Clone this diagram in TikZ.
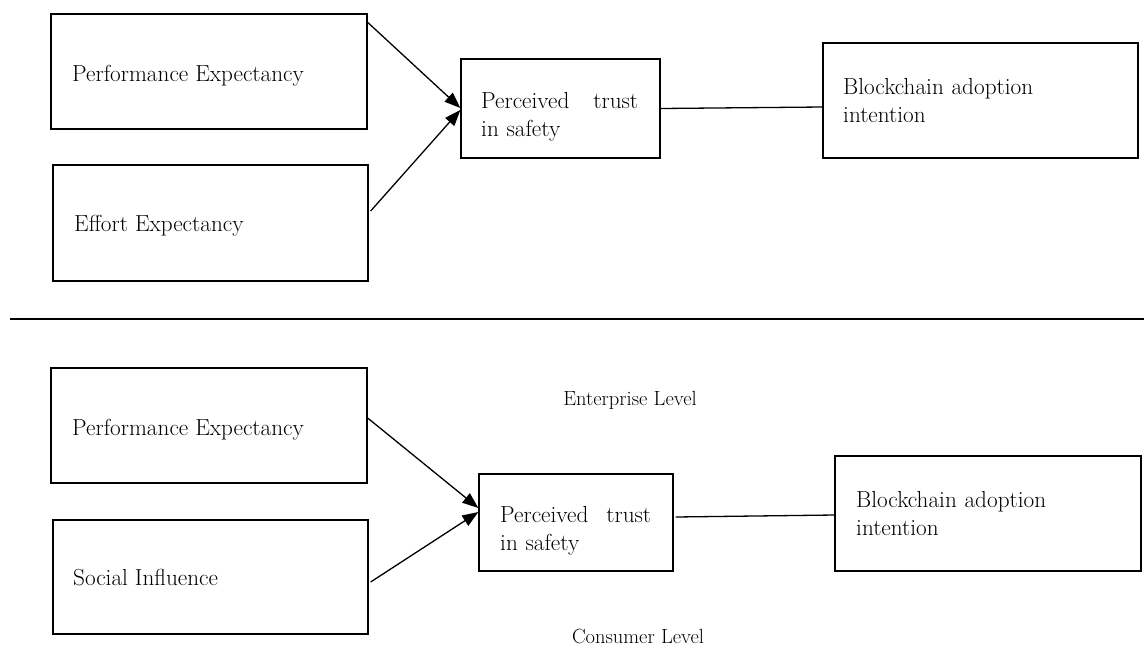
\documentclass[tikz,border=0pt]{standalone}
\usetikzlibrary{arrows.meta}
\begin{document}
\begin{tikzpicture}[x=1pt,y=-1pt,
  box/.style={draw=black,line width=1.3pt,inner sep=0pt,rectangle},
  txt/.style={inner sep=0pt,anchor=base west,font=\fontsize{23.2}{28}\selectfont},
  mltxt/.style={txt,align=left},
  lvl/.style={inner sep=0pt,anchor=base,font=\fontsize{20.5}{24}\selectfont},
  arr/.style={line width=1.3pt,-{Triangle[length=16pt,width=12pt]}},
  con/.style={line width=1.3pt}]
\useasboundingbox (0,0) rectangle (1144,646);
% top level
\node[box,minimum width=316pt,minimum height=115pt] (pe1) at (209,71.5) {};
\node[box,minimum width=315pt,minimum height=116pt] (ee) at (210.5,223) {};
\node[box,minimum width=199pt,minimum height=99pt] (pt1) at (560.5,108.5) {};
\node[box,minimum width=315pt,minimum height=115pt] (ba1) at (980.5,100.5) {};
\node[txt] (pe1t) at (72,81) {Performance Expectancy};
\node[txt] (eet) at (74,231) {Effort Expectancy};
\node[mltxt,text width=157pt] (pt1t) at (481,108) {Perceived\hfill trust\\in safety};
\node[mltxt,text width=290pt] (ba1t) at (843,94) {Blockchain adoption\\intention};
\draw[arr] ([yshift=-9pt]pe1.north east) -- ([yshift=0.5pt]pt1.west);
\draw[arr] ([xshift=2pt,yshift=12pt]ee.east) -- ([yshift=-1.5pt]pt1.west);
\draw[con] (pt1.east) -- ([yshift=-6.5pt]ba1.west);
% separator
\draw[line width=2pt] (10,319) -- (1144,319);
% bottom level
\node[box,minimum width=316pt,minimum height=115pt] (pe2) at (209,425.5) {};
\node[box,minimum width=315pt,minimum height=114pt] (si) at (210.5,577) {};
\node[box,minimum width=194pt,minimum height=97pt] (pt2) at (576,522.5) {};
\node[box,minimum width=306pt,minimum height=115pt] (ba2) at (988,513.5) {};
\node[txt] (pe2t) at (72,435) {Performance Expectancy};
\node[txt] (sit) at (73,585.5) {Social Influence};
\node[mltxt,text width=151pt] (pt2t) at (500,522.5) {Perceived\hfill trust\\in safety};
\node[mltxt,text width=280pt] (ba2t) at (856,507) {Blockchain adoption\\intention};
\draw[arr] ([yshift=7.5pt]pe2.east) -- ([yshift=14.5pt]pt2.west);
\draw[arr] ([xshift=2pt,yshift=-5pt]si.east) -- ([yshift=10.5pt]pt2.west);
\draw[con] ([xshift=2pt,yshift=5.5pt]pt2.east) -- ([yshift=-1.5pt]ba2.west);
\node[lvl] (ent) at (630,405.5) {Enterprise Level};
\node[lvl] (cons) at (638,643) {Consumer Level};
\end{tikzpicture}
\end{document}
